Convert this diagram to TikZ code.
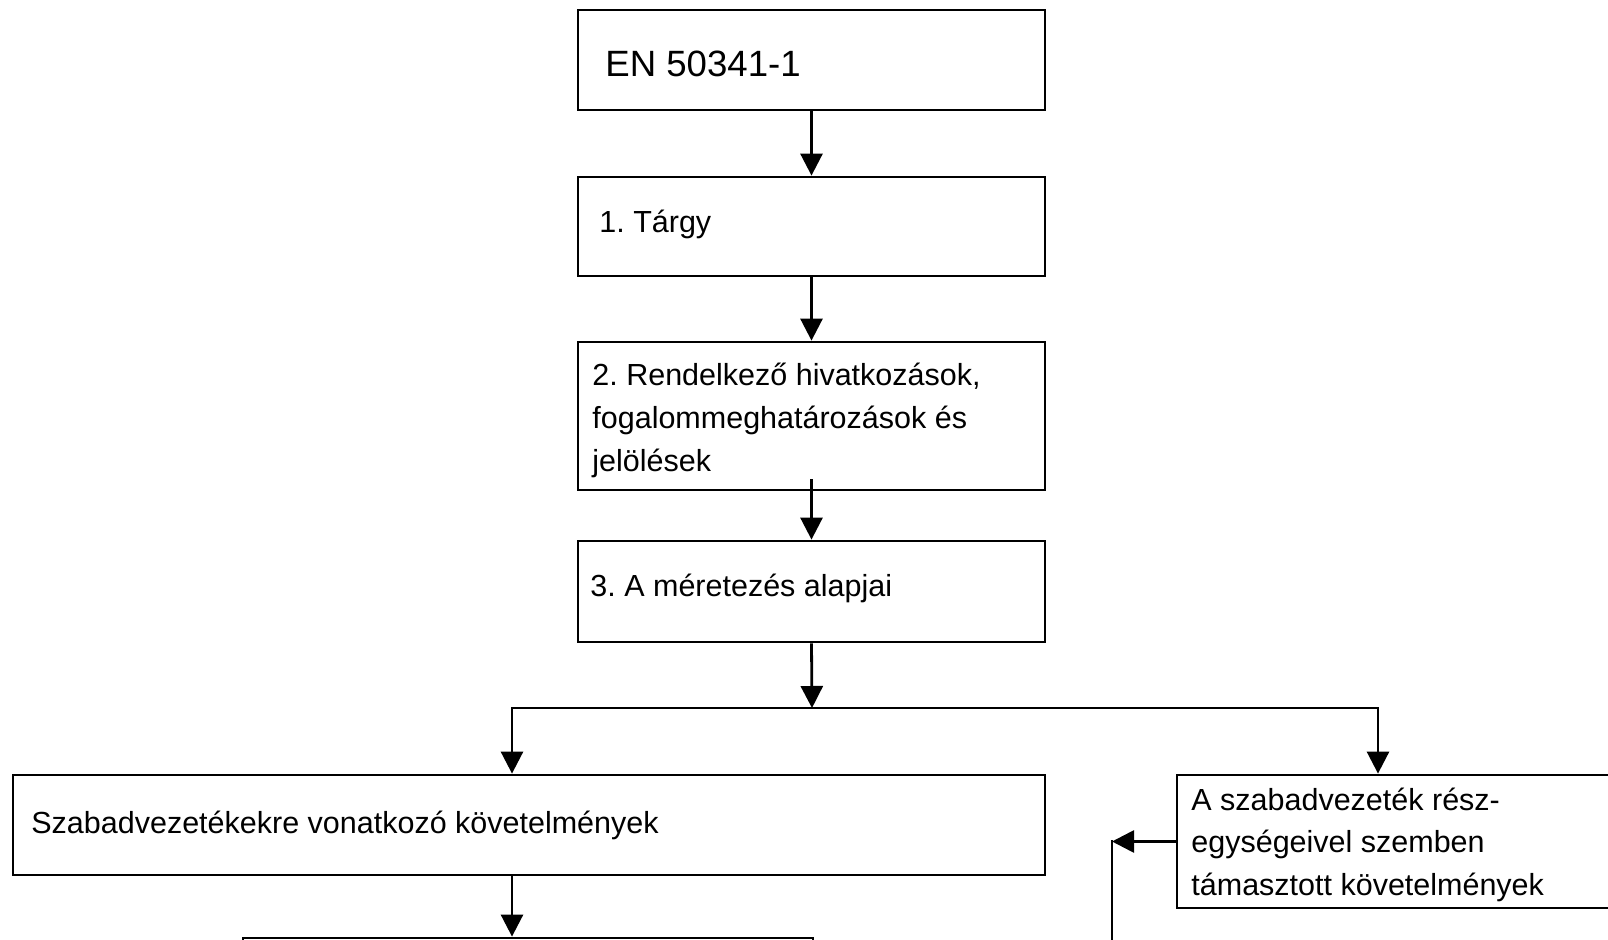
\documentclass[tikz,border=0pt]{standalone}
\usepackage{fontspec}
\setmainfont{Liberation Sans}
\usetikzlibrary{arrows.meta}
\frenchspacing
\begin{document}
\begin{tikzpicture}[x=0.5pt,y=-0.5pt,
  box/.style={draw=black, line width=1.4pt, inner sep=0pt, anchor=center},
  txt/.style={anchor=base west, inner sep=0pt, align=left, font=\fontsize{15.25pt}{21.5pt}\selectfont\frenchspacing},
  tip/.tip={Triangle[length=11pt,width=11pt]},
  ln/.style={line width=1.4pt},
  arr/.style={line width=1.4pt, -tip}]
\path[use as bounding box, clip] (0,0) rectangle (1608,940);
% boxes
\node[box, minimum width=233.5pt, minimum height=50pt] (b0) at (811.5,60) {};
\node[box, minimum width=233.5pt, minimum height=49.5pt] (b1) at (811.5,226.5) {};
\node[box, minimum width=233.5pt, minimum height=74pt] (b2) at (811.5,416) {};
\node[box, minimum width=233.5pt, minimum height=50.5pt] (b3) at (811.5,591.5) {};
\node[box, minimum width=516pt, minimum height=50pt] (b4) at (529,825) {};
\node[box, minimum width=236.5pt, minimum height=66.5pt] (b5) at (1413.5,841.5) {};
\node[box, minimum width=285pt, minimum height=50pt] (b6) at (528,988) {};
% texts (multi-line nodes: base anchor = last line's baseline)
\node[txt, font=\fontsize{18.3pt}{21.5pt}\selectfont] (t0) at (605,77) {EN 50341-1};
\node[txt] (t1) at (599,233) {1. Tárgy};
\node[txt] (t2) at (592,472) {2. Rendelkező hivatkozások,\\fogalommeghatározások és\\jelölések};
\node[txt] (t3) at (590,597) {3. A méretezés alapjai};
\node[txt] (t4) at (31,834) {Szabadvezetékekre vonatkozó követelmények};
\node[txt] (t5) at (1191,896) {A szabadvezeték rész-\\egységeivel szemben\\támasztott követelmények};
% connectors
\coordinate (j) at (812,708);
\coordinate (jl) at (512,708);
\coordinate (jr) at (1378,708);
\coordinate (c) at (1112,841.5);
\coordinate (cend) at (1112,980);
\draw[arr] (b0.south) -- (b1.north);
\draw[arr] (b1.south) -- (b2.north);
\draw[arr] ([yshift=6pt]b2.south) -- (b3.north);
\draw[arr] (b3.south) -- (j);
\draw[ln, tip-tip] (jl |- b4.north) -- (jl) -- (jr) -- (jr |- b5.north);
\draw[arr] (b4.south -| jl) -- (b6.north -| jl);
\draw[arr] (b5.west) -- (c);
\draw[ln, line cap=rect] (c) -- (cend);
\end{tikzpicture}
\end{document}
